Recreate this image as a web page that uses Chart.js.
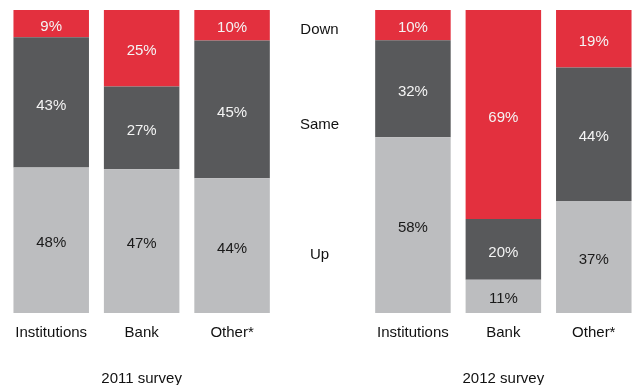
<!DOCTYPE html>
<html>
<head>
<meta charset="utf-8">
<script src="https://cdn.jsdelivr.net/npm/chart.js@4"></script>
<style>
  html, body { margin: 0; padding: 0; background: #fff; overflow: hidden; }
  canvas { display: block; }
</style>
</head>
<body>
<canvas id="survey-chart" width="645" height="385"></canvas>
<script>
const groups = ["Institutions", "Bank", "Other*"];
const surveys = ["2011 survey", "2012 survey"];
const seriesNames = ["Up", "Same", "Down"];

// shares of answers, in percent
const up2011 = [48, 47, 44];
const same2011 = [43, 27, 45];
const down2011 = [9, 25, 10];
const up2012 = [58, 11, 37];
const same2012 = [32, 20, 44];
const down2012 = [10, 69, 19];

const colors = ["#bcbdbf", "#58595b", "#e3303e"];
const labelColors = ["#1a1a1a", "#f4f4f4", "#f4f4f4"];
const font = "Liberation Sans, Arial, sans-serif";

// one empty slot between the two surveys holds the row names
const labels = [...groups, "", ...groups];
const raw = [
  [...up2011, null, ...up2012],
  [...same2011, null, ...same2012],
  [...down2011, null, ...down2012]
];

// each column is drawn as 100% stacked
const totals = labels.map((_, i) => raw.reduce((s, r) => s + (r[i] || 0), 0));

const datasets = raw.map((row, k) => ({
  label: seriesNames[k],
  data: row.map((v, i) => v === null ? null : v / totals[i] * 100),
  rawValues: row,
  backgroundColor: colors[k],
  borderWidth: 0,
  barPercentage: 0.835,
  categoryPercentage: 1
}));

const valueLabels = {
  id: "valueLabels",
  afterDatasetsDraw(chart) {
    const ctx = chart.ctx;
    ctx.save();
    ctx.font = "15px " + font;
    ctx.textAlign = "center";
    ctx.textBaseline = "middle";
    chart.data.datasets.forEach((ds, k) => {
      chart.getDatasetMeta(k).data.forEach((bar, i) => {
        const v = ds.rawValues[i];
        if (v === null) return;
        ctx.fillStyle = labelColors[k];
        ctx.fillText(v + "%", bar.x, (bar.y + bar.base) / 2 + 3);
      });
    });
    ctx.restore();
  }
};

const sideLabels = {
  id: "sideLabels",
  afterDraw(chart) {
    const ctx = chart.ctx;
    const x = chart.scales.x;
    const y = chart.scales.y;
    // row names sit in the empty middle slot
    const rowY = [20, 62.6, 94];
    ctx.save();
    ctx.font = "15px " + font;
    ctx.fillStyle = "#111";
    ctx.textAlign = "center";
    ctx.textBaseline = "middle";
    seriesNames.forEach((name, k) => {
      ctx.fillText(name, x.getPixelForValue(3) - 3, y.getPixelForValue(rowY[k]) + 2);
    });
    // survey names under each group of three bars
    ctx.textBaseline = "alphabetic";
    surveys.forEach((name, g) => {
      ctx.fillText(name, x.getPixelForValue(1 + g * 4), 383);
    });
    ctx.restore();
  }
};

new Chart(document.getElementById("survey-chart"), {
  type: "bar",
  data: { labels, datasets },
  options: {
    responsive: false,
    animation: false,
    layout: { padding: { left: 6, right: 6, top: 10, bottom: 33 } },
    plugins: {
      legend: { display: false },
      tooltip: { enabled: false }
    },
    scales: {
      x: {
        stacked: true,
        grid: { display: false, drawTicks: false, tickLength: 0 },
        border: { display: false },
        ticks: {
          autoSkip: false,
          maxRotation: 0,
          padding: 10.5,
          color: "#111",
          font: { family: font, size: 15 }
        }
      },
      y: {
        stacked: true,
        display: false,
        min: 0,
        max: 100
      }
    }
  },
  plugins: [valueLabels, sideLabels]
});
</script>
</body>
</html>
